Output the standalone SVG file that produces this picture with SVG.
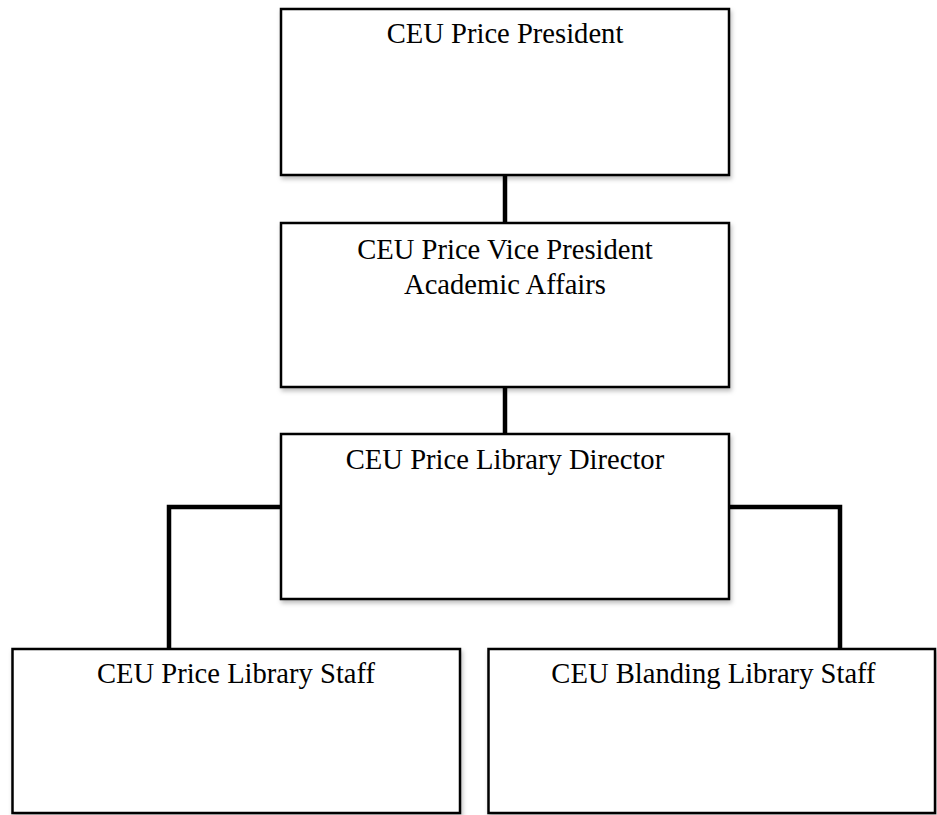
<svg xmlns="http://www.w3.org/2000/svg" width="937" height="815" viewBox="0 0 937 815">
  <style>
    .box { fill: #ffffff; stroke: #000000; stroke-width: 2.5; }
    .conn { fill: none; stroke: #000000; stroke-width: 4.5; stroke-linejoin: miter; stroke-linecap: butt; }
    .label { font-family: "Liberation Serif", "Times New Roman", serif; font-size: 28.6px; fill: #000000; text-anchor: middle; }
  </style>
  <defs>
    <filter id="shadow" x="-5%" y="-5%" width="110%" height="115%">
      <feDropShadow dx="1.5" dy="3" stdDeviation="2" flood-color="#000000" flood-opacity="0.25"/>
    </filter>
  </defs>
  <rect x="0" y="0" width="937" height="815" fill="#ffffff"/>
  <g id="connectors">
    <line class="conn" x1="505" y1="175" x2="505" y2="223"/>
    <line class="conn" x1="505" y1="387" x2="505" y2="434"/>
    <path class="conn" d="M 281 507 H 169 V 649"/>
    <path class="conn" d="M 729 507 H 840 V 649"/>
  </g>
  <g id="president">
    <rect class="box" x="281" y="9" width="448" height="166" filter="url(#shadow)"/>
    <text class="label" x="505" y="43">CEU Price President</text>
  </g>
  <g id="vice-president">
    <rect class="box" x="281" y="223" width="448" height="164" filter="url(#shadow)"/>
    <text class="label" x="505" y="259">CEU Price Vice President</text>
    <text class="label" x="505" y="294">Academic Affairs</text>
  </g>
  <g id="library-director">
    <rect class="box" x="281" y="434" width="448" height="165" filter="url(#shadow)"/>
    <text class="label" x="505" y="469">CEU Price Library Director</text>
  </g>
  <g id="price-staff">
    <rect class="box" x="12.5" y="649" width="447.5" height="164" filter="url(#shadow)"/>
    <text class="label" x="236" y="683">CEU Price Library Staff</text>
  </g>
  <g id="blanding-staff">
    <rect class="box" x="488.5" y="649" width="446.5" height="164" filter="url(#shadow)"/>
    <text class="label" x="713.5" y="683">CEU Blanding Library Staff</text>
  </g>
</svg>
